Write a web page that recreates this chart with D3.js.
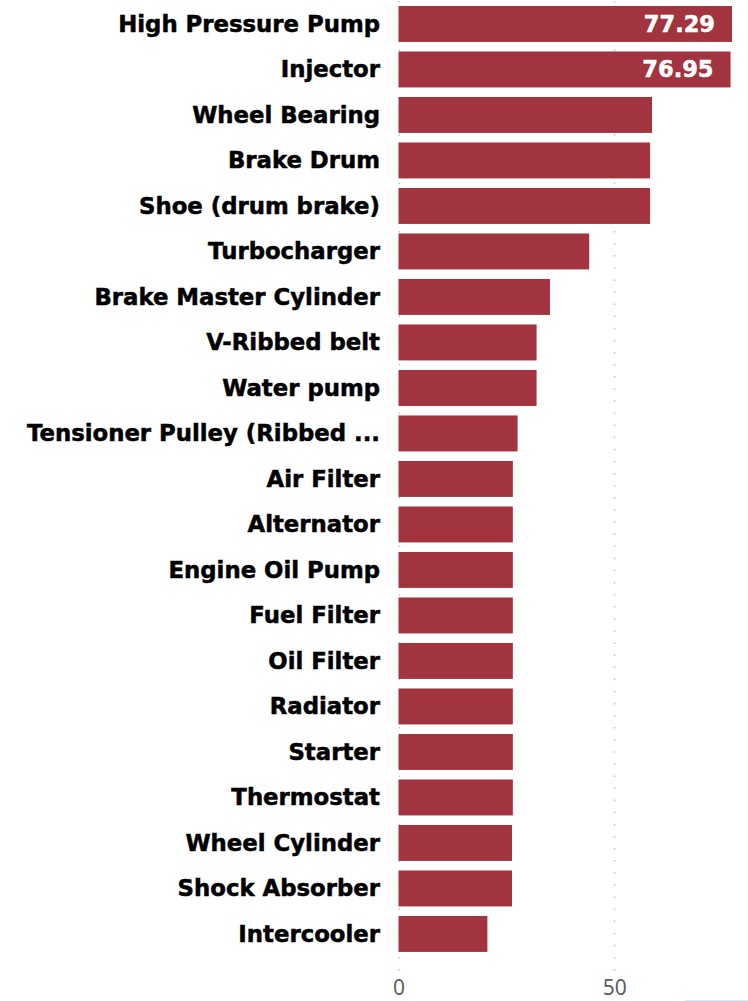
<!DOCTYPE html>
<html>
<head>
<meta charset="utf-8">
<script src="https://cdn.jsdelivr.net/npm/d3@7"></script>
<style>
  html, body { margin: 0; padding: 0; background: #fff; }
  svg { display: block; }
</style>
</head>
<body>
<svg id="chart" width="748" height="1001"></svg>
<script>
const categories = [
  "High Pressure Pump", "Injector", "Wheel Bearing", "Brake Drum", "Shoe (drum brake)",
  "Turbocharger", "Brake Master Cylinder", "V-Ribbed belt", "Water pump",
  "Tensioner Pulley (Ribbed ...", "Air Filter", "Alternator", "Engine Oil Pump",
  "Fuel Filter", "Oil Filter", "Radiator", "Starter", "Thermostat",
  "Wheel Cylinder", "Shock Absorber", "Intercooler"
];
const values = [
  77.29, 76.95, 58.75, 58.3, 58.3,
  44.2, 35.1, 32.0, 32.0,
  27.6, 26.5, 26.5, 26.5,
  26.5, 26.5, 26.5, 26.5, 26.5,
  26.3, 26.3, 20.6
];
const labelledCategories = ["High Pressure Pump", "Injector"];
const xTicks = [0, 50];

const data = categories.map((c, i) => ({ category: c, value: values[i] }));

const svg = d3.select("#chart");

const x = d3.scaleLinear()
  .domain([0, d3.max(values)])
  .range([398.5, 732]);

const y = d3.scaleBand()
  .domain(categories)
  .range([1.2, 1.2 + categories.length * 45.5])
  .paddingInner(0.21)
  .paddingOuter(0.105);

// dotted gridlines
svg.append("g").selectAll("line")
  .data(xTicks)
  .join("line")
  .attr("x1", d => Math.round(x(d)) + 0.5)
  .attr("x2", d => Math.round(x(d)) + 0.5)
  .attr("y1", 1)
  .attr("y2", 971)
  .attr("stroke", "#c8c6c4")
  .attr("stroke-width", 1.6)
  .attr("stroke-dasharray", "1.6,10.5");

// bars
svg.append("g").selectAll("rect")
  .data(data)
  .join("rect")
  .attr("x", x(0))
  .attr("y", d => y(d.category))
  .attr("width", d => x(d.value) - x(0))
  .attr("height", y.bandwidth())
  .attr("fill", "#a1343e");

// category labels
svg.append("g").selectAll("text")
  .data(data)
  .join("text")
  .attr("x", 380)
  .attr("y", d => y(d.category) + y.bandwidth() / 2 + 8)
  .attr("text-anchor", "end")
  .attr("font-family", "'DejaVu Sans', sans-serif")
  .attr("font-weight", "bold")
  .attr("font-size", 22.8)
  .attr("fill", "#000")
  .attr("stroke", "#000")
  .attr("stroke-width", 0.5)
  .text(d => d.category);

// value labels
svg.append("g").selectAll("text")
  .data(data.filter(d => labelledCategories.includes(d.category)))
  .join("text")
  .attr("x", d => x(d.value) - 17)
  .attr("y", d => y(d.category) + y.bandwidth() / 2 + 8)
  .attr("text-anchor", "end")
  .attr("font-family", "'DejaVu Sans', sans-serif")
  .attr("font-weight", "bold")
  .attr("font-size", 22.5)
  .attr("fill", "#fff")
  .attr("stroke", "#fff")
  .attr("stroke-width", 0.5)
  .text(d => d3.format(".2f")(d.value));

// x axis
const xAxis = d3.axisBottom(x).tickValues(xTicks).tickSize(0).tickPadding(0);
const gx = svg.append("g").attr("transform", "translate(0,980)").call(xAxis);
gx.select(".domain").remove();
gx.selectAll("text")
  .attr("dy", 0)
  .attr("y", 15)
  .attr("font-family", "'Noto Sans', 'Open Sans', sans-serif")
  .attr("font-size", 21)
  .attr("fill", "#605e5c");

// faint selection line at bottom right
svg.append("line")
  .attr("x1", 685).attr("x2", 748)
  .attr("y1", 1000.5).attr("y2", 1000.5)
  .attr("stroke", "#d6e9f7")
  .attr("stroke-width", 1);
</script>
</body>
</html>
